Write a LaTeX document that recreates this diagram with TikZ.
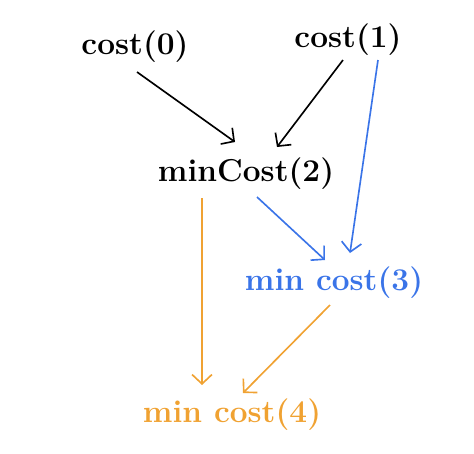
\documentclass[tikz,border=0pt]{standalone}
\usepackage{tikz}
\usetikzlibrary{arrows.meta}
\definecolor{penblue}{HTML}{3A74E8}
\definecolor{penorange}{HTML}{F0A232}

\begin{document}
\begin{tikzpicture}[
			label/.style={inner sep=0pt, font=\fontsize{27}{30}\selectfont\bfseries},
			arr/.style={line width=1.4pt, -{Straight Barb[length=8pt, width=17pt, line width=1.4pt]}}
			]
			\useasboundingbox (0,0) rectangle (14.22,-13.62);
			\node[label] (cost0) at (4.05,-1.41) {cost(0)};
			\node[label] (cost1) at (10.44,-1.20) {cost(1)};
			\node[label] (mincost2) at (7.38,-5.22) {minCost(2)};
			\node[label, text=penblue] (mincost3) at (10.02,-8.49) {min cost(3)};
			\node[label, text=penorange] (mincost4) at (6.96,-12.45) {min cost(4)};
			\draw[arr] ([shift={(0.06,-0.75)}]cost0.center) -- ([shift={(-0.33,0.96)}]mincost2.center);
			\draw[arr] ([shift={(-0.15,-0.6)}]cost1.center) -- ([shift={(0.93,0.81)}]mincost2.center);
			\draw[arr, penblue] ([shift={(0.9,-0.6)}]cost1.center) -- ([shift={(0.48,0.9)}]mincost3.center);
			\draw[arr, penblue] ([shift={(0.33,-0.69)}]mincost2.center) -- ([shift={(-0.27,0.69)}]mincost3.center);
			\draw[arr, penorange] ([shift={(-1.32,-0.72)}]mincost2.center) -- ([shift={(-0.9,0.9)}]mincost4.center);
			\draw[arr, penorange] ([shift={(-0.12,-0.66)}]mincost3.center) -- ([shift={(0.33,0.66)}]mincost4.center);
		\end{tikzpicture}
\end{document}
